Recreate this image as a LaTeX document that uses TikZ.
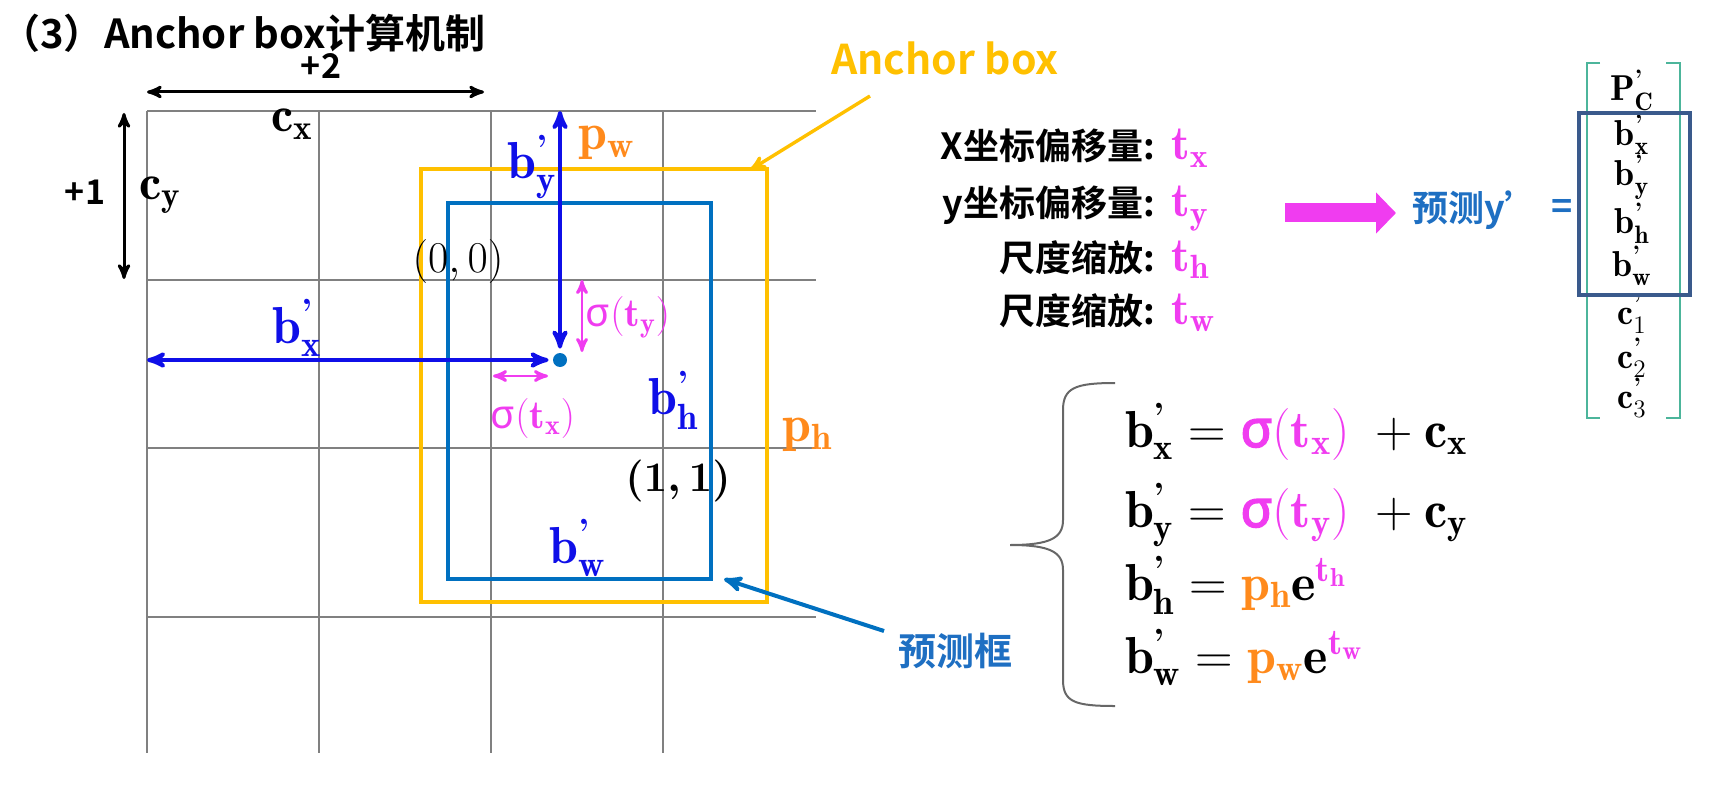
\RequirePackage{fix-cm}
\documentclass[tikz,border=0pt]{standalone}
\usepackage{amsmath}
\usepackage{fontspec}
\newfontfamily\cjk{Noto Sans CJK SC Bold}
\newfontfamily\grk{Noto Sans}
\newfontfamily\grkb{Noto Sans}[FakeBold=3]
\usetikzlibrary{arrows,arrows.meta}

\definecolor{gold}{HTML}{FFC000}
\definecolor{pblue}{HTML}{0070C0}
\definecolor{lblue}{HTML}{0F0FE8}
\definecolor{porange}{HTML}{FF8A1C}
\definecolor{mag}{HTML}{F03CF0}
\definecolor{gridgray}{HTML}{808080}
\definecolor{brkgreen}{HTML}{4CB59B}
\definecolor{selblue}{HTML}{3A5A8C}
\definecolor{txtblue}{HTML}{1E6FC2}

\newcommand{\bq}[1]{\mathbf{b}^{\textbf{'}}_{\mathbf{#1}}}
\newcommand{\cq}[1]{\mathbf{c}^{\textbf{'}}_{#1}}
\newcommand{\sg}{\text{\grk σ}}
\newcommand{\sgb}{\text{\grkb σ}}

\begin{document}
\begin{tikzpicture}[x=0.5pt,y=-0.5pt,>=stealth',
    gridline/.style={draw=gridgray,line width=0.7pt},
    anchorbox/.style={draw=gold,line width=2pt},
    predbox/.style={draw=pblue,line width=2pt},
    barrow/.style={<->,draw=lblue,line width=2pt},
    marrow/.style={<->,draw=mag,line width=1.4pt},
    blbl/.style={text=lblue,font=\fontsize{26}{30}\selectfont},
    olbl/.style={text=porange,font=\fontsize{26}{30}\selectfont},
    mlbl/.style={text=mag,font=\fontsize{20}{24}\selectfont},
    kbold/.style={font=\cjk\fontsize{18}{22}\selectfont},
    tlbl/.style={text=mag,font=\fontsize{24}{28}\selectfont},
    eqn/.style={anchor=base west,font=\fontsize{26}{30}\selectfont},
    vecent/.style={inner sep=0pt,font=\fontsize{18}{20}\selectfont}]

  \useasboundingbox (0,0) rectangle (1727,802);

  \node[anchor=west,inner sep=0,font=\cjk\fontsize{20}{24}\selectfont] (title) at (0,33) {（3）Anchor box计算机制};

  % grid
  \foreach \x in {147,319,491,663} \draw[gridline] (\x,111) -- (\x,753);
  \foreach \y in {111,280,448,617} \draw[gridline] (147,\y) -- (816,\y);

  \node[font=\cjk\fontsize{17}{20}\selectfont] (two) at (321,66) {+2};
  \node[font=\cjk\fontsize{17}{20}\selectfont] (one) at (85,192) {+1};
  \coordinate (hl) at (147,92);
  \coordinate (hr) at (484,92);
  \coordinate (vt) at (124,113);
  \coordinate (vb) at (124,279);
  \draw[<->,line width=1.5pt] (hl) -- (hr);
  \draw[<->,line width=1.5pt] (vt) -- (vb);
  \node[font=\fontsize{25}{28}\selectfont] (cx) at (292,124) {$\mathbf{c_x}$};
  \node[font=\fontsize{25}{28}\selectfont] (cy) at (160,195) {$\mathbf{c_y}$};

  \draw[anchorbox] (421,169) rectangle (767,602);
  \draw[predbox] (448,203) rectangle (711,579);

  \node[circle,fill=pblue,inner sep=0,minimum size=7pt] (ctr) at (560,360) {};
  \coordinate (lx) at (147,360);
  \coordinate (ty) at (560,111);
  \draw[barrow,shorten >=2pt] (lx) -- (ctr.west);
  \draw[barrow,shorten >=2pt] (ty) -- (ctr.north);
  \coordinate (sy1) at (582,280);
  \coordinate (sy2) at (582,352);
  \coordinate (sx1) at (493,376);
  \coordinate (sx2) at (548,376);
  \draw[marrow] (sy1) -- (sy2);
  \draw[marrow] (sx1) -- (sx2);

  \node[blbl] (by) at (532,167) {$\bq{y}$};
  \node[olbl] (pw) at (607,143) {$\mathbf{p_w}$};
  \node[blbl] (bx) at (297,328) {$\bq{x}$};
  \node[blbl] (bh) at (674,400) {$\bq{h}$};
  \node[olbl] (ph) at (808,435) {$\mathbf{p_h}$};
  \node[blbl] (bw) at (578,548) {$\bq{w}$};
  \node[font=\fontsize{22}{26}\selectfont] (o00) at (458,262) {$(0,0)$};
  \node[font=\fontsize{21}{26}\selectfont] (o11) at (678,481) {$\boldsymbol{(1,1)}$};
  \node[mlbl] (sy) at (628,317) {$\sg(\mathbf{t_y})$};
  \node[mlbl] (sx) at (533,418) {$\sg(\mathbf{t_x})$};

  \node[text=gold,font=\cjk\fontsize{20.5}{24}\selectfont] (anc) at (945,58) {Anchor box};
  \coordinate (ancfrom) at (870,96);
  \coordinate (anctip) at (750,170);
  \draw[->,draw=gold,line width=1.7pt] (ancfrom) -- (anctip);

  \node[text=txtblue,font=\cjk\fontsize{19}{22}\selectfont] (pred) at (955,651) {预测框};
  \coordinate (predfrom) at (884,631);
  \coordinate (predtip) at (724,579);
  \draw[->,draw=pblue,line width=2pt] (predfrom) -- (predtip);

  \foreach \lab/\sub/\yy/\n in {X坐标偏移量:/x/160/1,y坐标偏移量:/y/217/2,尺度缩放:/h/271/3,尺度缩放:/w/324/4} {
    \node[kbold,anchor=base east] (k\n) at (1162,\yy) {\lab};
    \node[tlbl,anchor=base west] (t\n) at (1164,\yy) {$\mathbf{t_\sub}$};
  }

  \coordinate (ba1) at (1285,213);
  \coordinate (ba2) at (1396,213);
  \draw[mag,line width=9.5pt,-{Triangle[length=10pt,width=20pt]}] (ba1) -- (ba2);
  \node[text=txtblue,font=\cjk\fontsize{18}{22}\selectfont,anchor=west] (yp) at (1405,210) {预测y’};
  \node[text=txtblue,font=\cjk\fontsize{18}{22}\selectfont] (eqs) at (1562,209) {=};

  \foreach \e/\yy [count=\i] in {{\mathbf{P}^{\textbf{'}}_{\mathbf{C}}}/90,{\bq{x}}/135,{\bq{y}}/177,{\bq{h}}/223,{\bq{w}}/266,{\cq{1}}/314,{\cq{2}}/358,{\cq{3}}/398}
    \node[vecent] (v\i) at (1632,\yy) {$\e$};
  \draw[brkgreen,line width=0.8pt] (1600,63) -- (1587,63) -- (1587,418) -- (1600,418);
  \draw[brkgreen,line width=0.8pt] (1666,63) -- (1680,63) -- (1680,418) -- (1666,418);
  \draw[selblue,line width=2pt] (1579,113) rectangle (1690,295);

  \draw[gridgray!80!black,line width=1pt] (1115,383) .. controls (1075,383) and (1063,388) .. (1063,410)
    -- (1063,520) .. controls (1063,538) and (1050,545) .. (1010,545)
    .. controls (1050,545) and (1063,552) .. (1063,570)
    -- (1063,680) .. controls (1063,702) and (1075,706) .. (1115,706);

  \node[eqn] (e1) at (1118,447) {$\bq{x}={\color{mag}\sgb(\mathbf{t_x})}\;+\mathbf{c_x}$};
  \node[eqn] (e2) at (1118,527) {$\bq{y}={\color{mag}\sgb(\mathbf{t_y})}\;+\mathbf{c_y}$};
  \node[eqn] (e3) at (1118,600) {$\bq{h}={\color{porange}\mathbf{p_h}}\mathbf{e}^{\color{mag}\mathbf{t_h}}$};
  \node[eqn] (e4) at (1118,673) {$\bq{w}={\color{porange}\mathbf{p_w}}\mathbf{e}^{\color{mag}\mathbf{t_w}}$};

\end{tikzpicture}
\end{document}
